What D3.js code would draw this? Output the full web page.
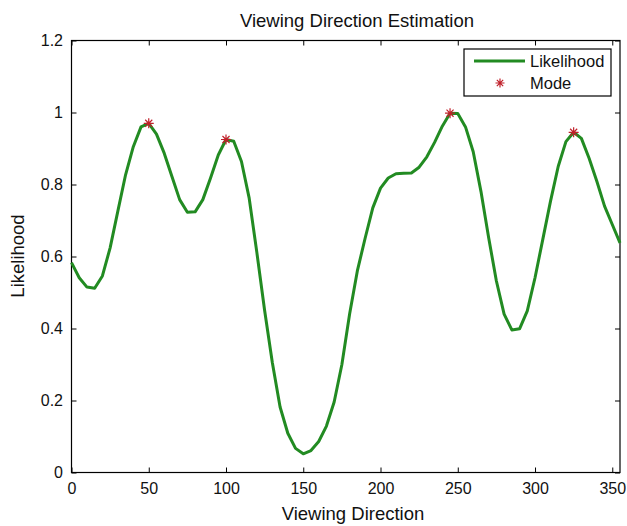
<!DOCTYPE html>
<html>
<head>
<meta charset="utf-8">
<script src="https://cdn.jsdelivr.net/npm/d3@7"></script>
<style>
  html, body { margin: 0; padding: 0; background: #fff; }
  svg { display: block; font-family: "Liberation Sans", Arial, Helvetica, sans-serif; }
</style>
</head>
<body>
<svg id="chart" width="627" height="526"></svg>
<script>
// Viewing direction (degrees), sampled every 5 degrees
const directions = d3.range(0, 360, 5);

// Likelihood at each direction
const likelihood = [
  0.583, 0.541, 0.515, 0.512, 0.546, 0.624, 0.726, 0.827, 0.905, 0.960,
  0.970, 0.940, 0.887, 0.822, 0.758, 0.723, 0.724, 0.758, 0.818, 0.882,
  0.925, 0.920, 0.864, 0.762, 0.610, 0.450, 0.305, 0.182, 0.109, 0.067,
  0.052, 0.061, 0.086, 0.129, 0.196, 0.300, 0.440, 0.560, 0.650, 0.735,
  0.790, 0.818, 0.830, 0.831, 0.832, 0.848, 0.877, 0.917, 0.962, 0.998,
  0.997, 0.960, 0.891, 0.781, 0.652, 0.532, 0.440, 0.396, 0.399, 0.449,
  0.541, 0.647, 0.753, 0.850, 0.919, 0.945, 0.928, 0.873, 0.809, 0.740,
  0.689, 0.638
];

// Local maxima of the likelihood
const modeDirections = [50, 100, 245, 325];
const modeValues = [0.970, 0.925, 0.998, 0.945];

const xTicks = [0, 50, 100, 150, 200, 250, 300, 350];
const yTicks = [0, 0.2, 0.4, 0.6, 0.8, 1, 1.2];

const lineColor = "#228b22";
const modeColor = "#c0202a";

const svg = d3.select("#chart");
const plotLeft = 71.5, plotRight = 620, plotTop = 40.5, plotBottom = 472.5;

const x = d3.scaleLinear().domain([0, 355]).range([plotLeft, plotRight]);
const y = d3.scaleLinear().domain([0, 1.2]).range([plotBottom, plotTop]);

// Axes: ticks point inward on all four sides
const fmt = d3.format("~g");
const axisStyle = g => {
  g.select(".domain").remove();
  g.selectAll("line").attr("stroke", "#000").attr("stroke-width", 1);
  g.selectAll("text").attr("fill", "#111").attr("font-size", 16);
};

svg.append("g")
  .attr("transform", `translate(0,${plotBottom})`)
  .call(d3.axisBottom(x).tickValues(xTicks).tickFormat(fmt).tickSizeInner(-5).tickSizeOuter(0).tickPadding(10))
  .call(axisStyle);

svg.append("g")
  .attr("transform", `translate(0,${plotTop})`)
  .call(d3.axisTop(x).tickValues(xTicks).tickFormat("").tickSizeInner(-5).tickSizeOuter(0))
  .call(axisStyle);

svg.append("g")
  .attr("transform", `translate(${plotLeft},0)`)
  .call(d3.axisLeft(y).tickValues(yTicks).tickFormat(fmt).tickSizeInner(-5).tickSizeOuter(0).tickPadding(8.5))
  .call(axisStyle);

svg.append("g")
  .attr("transform", `translate(${plotRight},0)`)
  .call(d3.axisRight(y).tickValues(yTicks).tickFormat("").tickSizeInner(-5).tickSizeOuter(0))
  .call(axisStyle);

// Plot box
svg.append("rect")
  .attr("x", plotLeft).attr("y", plotTop)
  .attr("width", plotRight - plotLeft).attr("height", plotBottom - plotTop)
  .attr("fill", "none").attr("stroke", "#000").attr("stroke-width", 1.2);

// Likelihood curve
const pts = directions.map((d, i) => [d, likelihood[i]]);
const line = d3.line().x(d => x(d[0])).y(d => y(d[1]));
svg.append("path")
  .datum(pts)
  .attr("d", line)
  .attr("fill", "none")
  .attr("stroke", lineColor)
  .attr("stroke-width", 3)
  .attr("stroke-linejoin", "round");

// Asterisk marker (plus and cross)
function asterisk(cx, cy, r) {
  const d = r * Math.SQRT1_2;
  return `M${cx - r},${cy}L${cx + r},${cy}M${cx},${cy - r}L${cx},${cy + r}` +
         `M${cx - d},${cy - d}L${cx + d},${cy + d}M${cx - d},${cy + d}L${cx + d},${cy - d}`;
}

svg.append("g")
  .selectAll("path")
  .data(modeDirections.map((d, i) => [d, modeValues[i]]))
  .join("path")
  .attr("d", d => asterisk(x(d[0]), y(d[1]), 5))
  .attr("stroke", modeColor)
  .attr("stroke-width", 1.2)
  .attr("fill", "none");

// Title and axis labels
svg.append("text")
  .attr("x", 357).attr("y", 26.5)
  .attr("text-anchor", "middle")
  .attr("font-size", 18.5).attr("fill", "#111")
  .text("Viewing Direction Estimation");

svg.append("text")
  .attr("x", 353).attr("y", 520)
  .attr("text-anchor", "middle")
  .attr("font-size", 18.5).attr("fill", "#111")
  .text("Viewing Direction");

svg.append("text")
  .attr("transform", "translate(23.5,256) rotate(-90)")
  .attr("text-anchor", "middle")
  .attr("font-size", 18.5).attr("fill", "#111")
  .text("Likelihood");

// Legend
const legend = svg.append("g");
legend.append("rect")
  .attr("x", 464).attr("y", 49).attr("width", 147).attr("height", 47)
  .attr("fill", "#fff").attr("stroke", "#000").attr("stroke-width", 1.2);
legend.append("line")
  .attr("x1", 474).attr("x2", 525).attr("y1", 61).attr("y2", 61)
  .attr("stroke", lineColor).attr("stroke-width", 3);
legend.append("text")
  .attr("x", 530).attr("y", 67)
  .attr("font-size", 16.5).attr("fill", "#111")
  .text("Likelihood");
legend.append("path")
  .attr("d", asterisk(500, 83, 4.5))
  .attr("stroke", modeColor).attr("stroke-width", 1.2).attr("fill", "none");
legend.append("text")
  .attr("x", 530).attr("y", 89)
  .attr("font-size", 16.5).attr("fill", "#111")
  .text("Mode");
</script>
</body>
</html>
